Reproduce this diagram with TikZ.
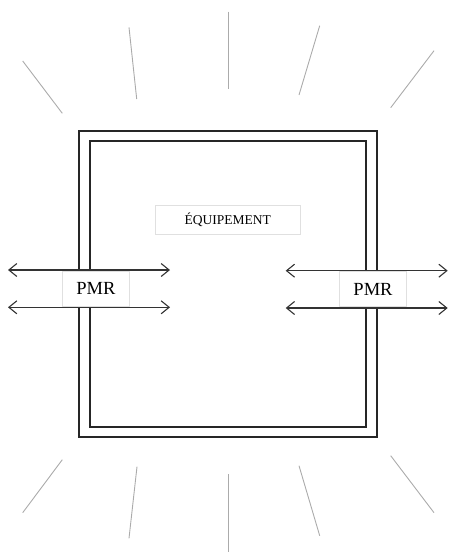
\documentclass[tikz,border=0pt]{standalone}
\usepackage{fontspec}
\setmainfont{Liberation Serif}
\usetikzlibrary{arrows.meta}
\begin{document}
\begin{tikzpicture}[x=1pt,y=-1pt,
  ray/.style={draw=black!33,line width=0.9pt},
  wall/.style={draw=black!85,line width=1.8pt},
  label box/.style={draw=black!12,fill=white,line width=0.5pt,inner sep=0pt},
  flow/.style={draw=black!80,line width=1.1pt,{Straight Barb[length=8pt,width=13pt]}-{Straight Barb[length=8pt,width=13pt]}}]
\useasboundingbox (0,0) rectangle (453,560);
% rays
\draw[ray] (22.7,61) -- (62.3,113.3);
\draw[ray] (129,27.3) -- (136.7,99);
\draw[ray] (228.3,11.7) -- (228.3,89.3);
\draw[ray] (319.7,25.7) -- (299,95);
\draw[ray] (434,50.7) -- (390.7,107.7);
\draw[ray] (62.3,459.7) -- (22.7,512.7);
\draw[ray] (137,466.7) -- (129,538.3);
\draw[ray] (228,474) -- (228,552);
\draw[ray] (299,465.7) -- (319.7,535.7);
\draw[ray] (390.7,455.7) -- (434,512.7);
% walls
\draw[wall] (79.3,131.3) rectangle (376.7,437.3);
\draw[wall] (90,141.3) rectangle (366.3,427);
% equipment
\node[label box,minimum width=144.7pt,minimum height=28.7pt,font=\fontsize{13.5}{15}\selectfont] (eq) at (227.7,219.7) {ÉQUIPEMENT};
% PMR boxes
\node[label box,minimum width=67.4pt,minimum height=35.3pt,font=\fontsize{18.5}{20}\selectfont] (pl) at (96,288.4) {PMR};
\node[label box,minimum width=67.4pt,minimum height=35.3pt,font=\fontsize{18.5}{20}\selectfont] (pr) at (373,289) {PMR};
% arrow endpoints
\coordinate (l1a) at (8,270); \coordinate (l1b) at (170,270);
\coordinate (l2a) at (8,307.3); \coordinate (l2b) at (170,307.3);
\coordinate (r1a) at (285.7,270.7); \coordinate (r1b) at (447.7,270.7);
\coordinate (r2a) at (285.7,308); \coordinate (r2b) at (447.7,308);
\draw[flow] (l1a) -- (l1b);
\draw[flow] (l2a) -- (l2b);
\draw[flow] (r1a) -- (r1b);
\draw[flow] (r2a) -- (r2b);
\end{tikzpicture}
\end{document}
